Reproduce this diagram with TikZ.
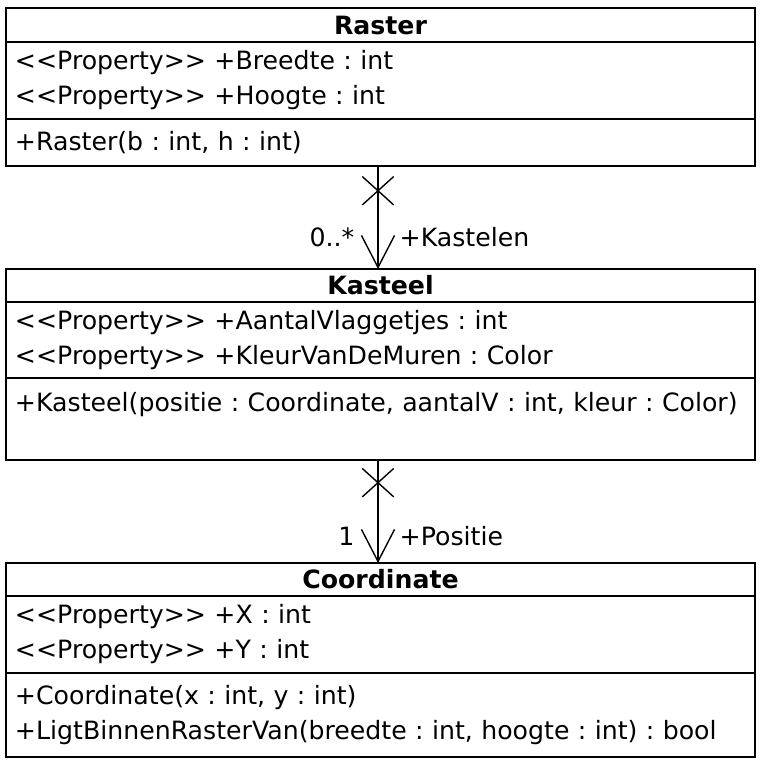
\documentclass[tikz,border=0pt]{standalone}
\usepackage{fontspec}
\setmainfont{DejaVu Sans}
\frenchspacing
\usetikzlibrary{positioning,arrows.meta,shapes.misc}

\begin{document}
\begin{tikzpicture}[x=1pt,y=-1pt,
    classtitle/.style={draw, line width=1.4pt, outer sep=0pt, minimum width=749pt,
      minimum height=34pt, inner sep=0pt, font=\fontsize{25.2}{35}\selectfont\bfseries},
    classpart/.style={draw, line width=1.4pt, outer sep=0pt, minimum width=749pt,
      text width=731pt, inner sep=0pt, align=left, font=\fontsize{25.2}{35}\selectfont},
    assoc/.style={line width=1.4pt, -{Straight Barb[length=32pt,width=33pt]}},
    navx/.style={draw, cross out, line width=1.4pt, minimum width=30pt, minimum height=27pt, inner sep=0pt},
    lbl/.style={font=\fontsize{25.2}{28}\selectfont, inner sep=0pt}]
  \useasboundingbox (0,0) rectangle (762,764);

  % Raster
  \node[classtitle, anchor=north] (rastert) at (380.5,8) {Raster};
  \node[classpart, minimum height=77pt, below=0pt of rastert] (rastera)
    {<\kern0pt<Property>\kern0pt> +Breedte : int\\<\kern0pt<Property>\kern0pt> +Hoogte : int};
  \node[classpart, minimum height=47pt, below=0pt of rastera] (rastero)
    {+Raster(b : int, h : int)};

  % Kasteel
  \node[classtitle, anchor=north, minimum height=33pt] (kasteelt) at (380.5,269) {Kasteel};
  \node[classpart, minimum height=76pt, below=0pt of kasteelt] (kasteela)
    {<\kern0pt<Property>\kern0pt> +AantalVlaggetjes : int\\<\kern0pt<Property>\kern0pt> +KleurVanDeMuren : Color};
  \node[classpart, minimum height=82pt, below=0pt of kasteela] (kasteelo)
    {+Kasteel(positie : Coordinate, aantalV : int, kleur : Color)\\\mbox{}};

  % Coordinate
  \node[classtitle, anchor=north, minimum height=33pt] (coordt) at (380.5,563) {Coordinate};
  \node[classpart, minimum height=77pt, below=0pt of coordt] (coorda)
    {<\kern0pt<Property>\kern0pt> +X : int\\<\kern0pt<Property>\kern0pt> +Y : int};
  \node[classpart, minimum height=84pt, below=0pt of coorda] (coordo)
    {+Coordinate(x : int, y : int)\\+LigtBinnenRasterVan(breedte : int, hoogte : int) : bool};

  % associations
  \draw[assoc] ([xshift=-2.5pt]rastero.south) -- coordinate[pos=0.24] (nav1) ([xshift=-2.5pt]kasteelt.north);
  \node[navx] at (nav1) {};
  \node[lbl, anchor=east] at ([xshift=-26pt,yshift=32pt]kasteelt.north) {0..*};
  \node[lbl, anchor=west] at ([xshift=19pt,yshift=32pt]kasteelt.north) {+Kastelen};

  \draw[assoc] ([xshift=-2.5pt]kasteelo.south) -- coordinate[pos=0.22] (nav2) ([xshift=-2.5pt]coordt.north);
  \node[navx] at (nav2) {};
  \node[lbl, anchor=east] at ([xshift=-26pt,yshift=27pt]coordt.north) {1};
  \node[lbl, anchor=west] at ([xshift=19pt,yshift=27pt]coordt.north) {+Positie};
\end{tikzpicture}
\end{document}
